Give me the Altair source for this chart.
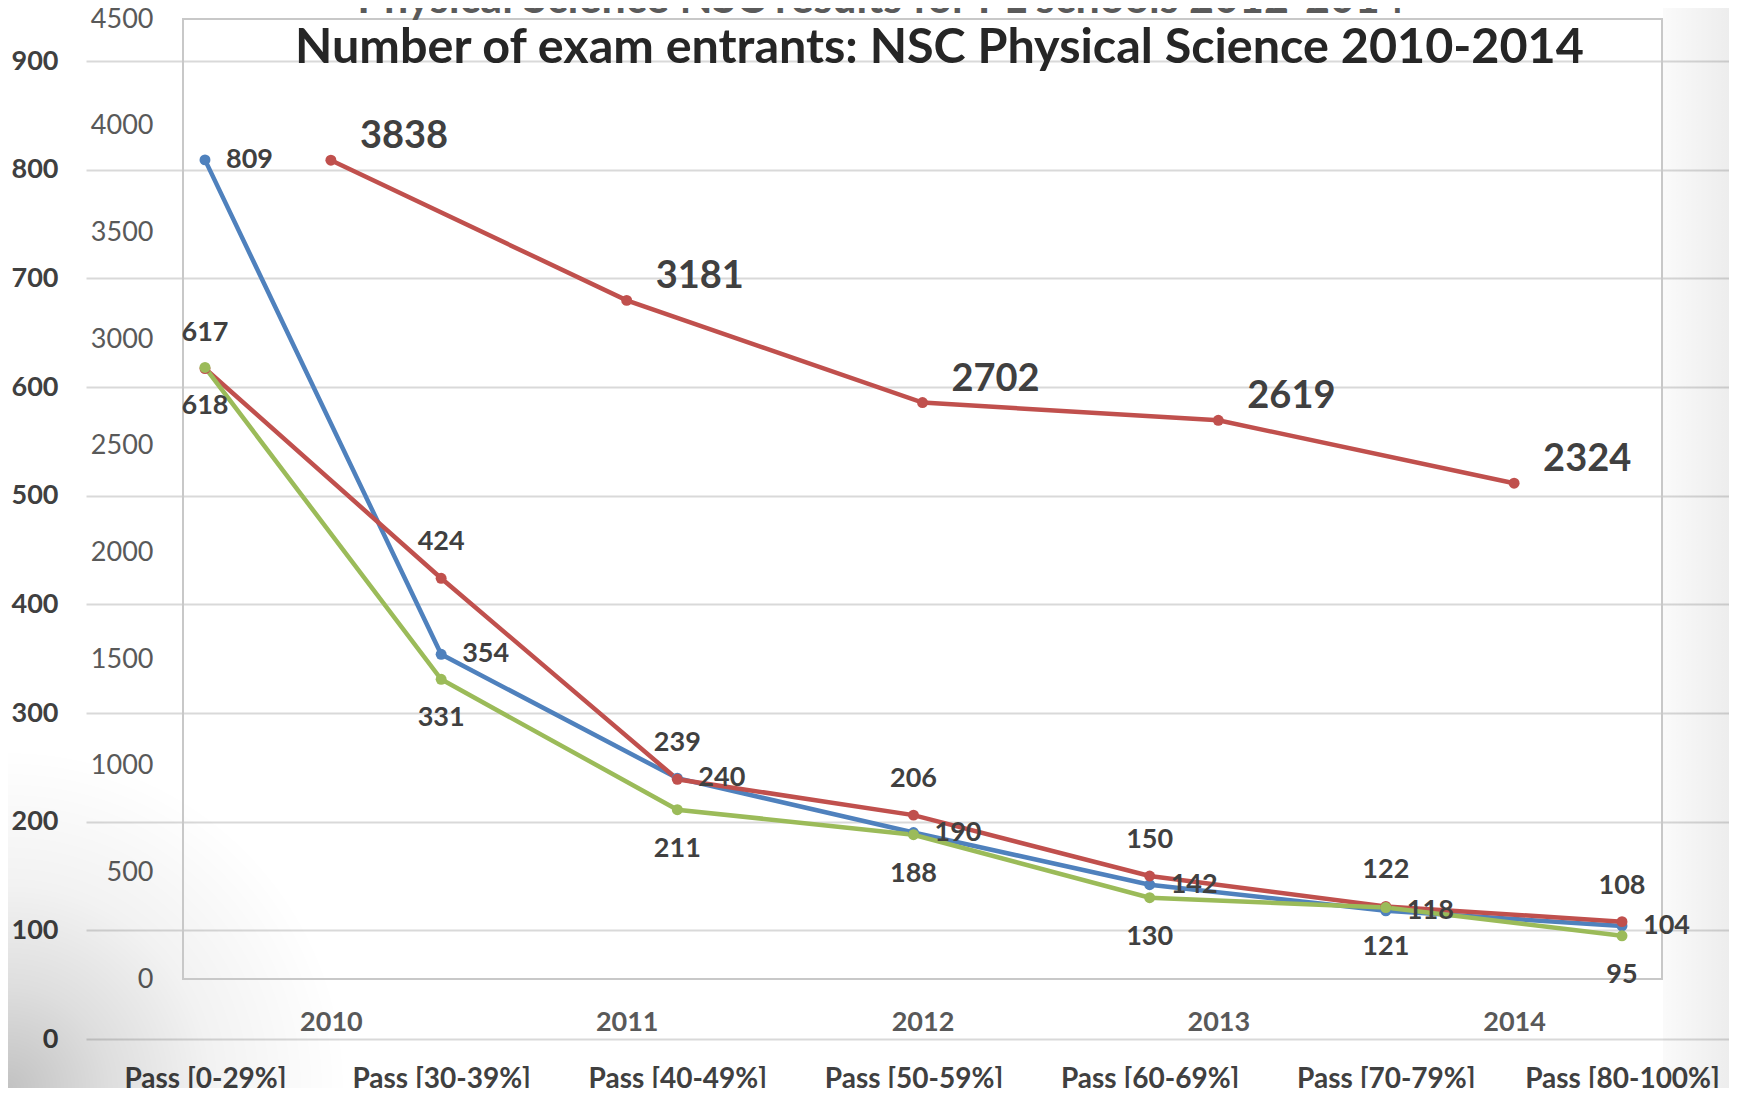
import altair as alt
import pandas as pd

# ---------------- data ----------------
categories = ["Pass [0-29%]", "Pass [30-39%]", "Pass [40-49%]", "Pass [50-59%]",
              "Pass [60-69%]", "Pass [70-79%]", "Pass [80-100%]"]
series_names = ["2012", "2013", "2014"]
blue_values = [809, 354, 240, 190, 142, 118, 104]
red_values = [617, 424, 239, 206, 150, 122, 108]
green_values = [618, 331, 211, 188, 130, 121, 95]
pass_ticks = [0, 100, 200, 300, 400, 500, 600, 700, 800, 900]

years = [2010, 2011, 2012, 2013, 2014]
entrants = [3838, 3181, 2702, 2619, 2324]
entrant_ticks = [0, 500, 1000, 1500, 2000, 2500, 3000, 3500, 4000, 4500]

main_title = "Number of exam entrants: NSC Physical Science 2010-2014"
back_title = "Physical Science NSC results for PL schools 2012-2014"

# ---------------- styling ----------------
BLUE, RED, GREEN = "#4F81BD", "#C0504D", "#9BBB59"
FONT = "Lato"
W, H = 1643, 1020

rows = []
for name, vals in zip(series_names, [blue_values, red_values, green_values]):
    for c, v in zip(categories, vals):
        rows.append({"category": c, "series": name, "value": v})
pass_df = pd.DataFrame(rows)
entr_df = pd.DataFrame({"year": years, "entrants": entrants})
box_df = pd.DataFrame({"x0": [min(years) - 0.5], "x1": [max(years) + 0.5],
                       "y0": [entrant_ticks[0]], "y1": [entrant_ticks[-1]]})
one = pd.DataFrame({"t": [back_title]})

# ---------------- background vignette (translucent shading) ----------------
bg_left = alt.Chart(one).mark_rect(
    fill=alt.RadialGradient(gradient="radial", x1=0, y1=1, r1=0, x2=0, y2=1, r2=1,
                            stops=[alt.GradientStop(offset=0, color="rgba(0,0,0,0.24)"),
                                   alt.GradientStop(offset=0.3, color="rgba(0,0,0,0.13)"),
                                   alt.GradientStop(offset=0.6, color="rgba(0,0,0,0.05)"),
                                   alt.GradientStop(offset=1, color="rgba(0,0,0,0)")])
).encode(x=alt.value(-78), x2=alt.value(262), y=alt.value(729), y2=alt.value(1069))
bg_right = alt.Chart(one).mark_rect(
    fill=alt.LinearGradient(gradient="linear", x1=0, y1=0, x2=1, y2=0,
                            stops=[alt.GradientStop(offset=0, color="rgba(0,0,0,0.02)"),
                                   alt.GradientStop(offset=1, color="rgba(0,0,0,0.07)")])
).encode(x=alt.value(1577), x2=alt.value(W), y=alt.value(-11), y2=alt.value(1069))

# ---------------- chart B: exam entrants ----------------
scaleXB = alt.Scale(domain=[2009.5, 2014.5], range=[97, 1576], nice=False, zero=False)
axisXB = alt.Axis(orient="bottom", offset=-60, values=years, format="d", title=None,
                  domain=False, ticks=False, tickSize=0, grid=False, labelPadding=30,
                  labelFontSize=27, labelFontWeight="bold", labelColor="#595959",
                  labelFont=FONT)
scaleYB = alt.Scale(domain=[0, 4500], range=[960, 0], nice=False)
axisYB = alt.Axis(orient="left", offset=-97, values=entrant_ticks, format="d", title=None,
                  domain=False, ticks=False, tickSize=0, grid=False, labelPadding=30,
                  labelFontSize=27, labelColor="#595959", labelFont=FONT)
xB = alt.X("year:Q", scale=scaleXB, axis=axisXB)
yB = alt.Y("entrants:Q", scale=scaleYB, axis=axisYB)

boxB = alt.Chart(box_df).mark_rect(fillOpacity=0, stroke="#c8c8c8", strokeWidth=2).encode(
    x=alt.X("x0:Q", scale=scaleXB, axis=axisXB), x2="x1:Q",
    y=alt.Y("y0:Q", scale=scaleYB, axis=axisYB), y2="y1:Q")
lineB = alt.Chart(entr_df).mark_line(
    color=RED, strokeWidth=4.5,
    point=alt.OverlayMarkDef(color=RED, size=120, filled=True, opacity=1)
).encode(x=xB, y=yB)
textB = alt.Chart(entr_df).mark_text(
    align="left", baseline="middle", dx=29, dy=-23, font=FONT, fontSize=38,
    fontWeight="bold", color="#404040"
).encode(x=xB, y=yB, text=alt.Text("entrants:Q", format="d"))
chartB = alt.layer(boxB, lineB, textB)

# ---------------- chart A: pass distribution ----------------
xA = alt.X("category:N", sort=categories,
           scale=alt.Scale(type="point", domain=categories, padding=0.47845, align=0.5265),
           axis=alt.Axis(orient="bottom", title=None, domain=False, ticks=False, tickSize=0,
                         grid=False, labelPadding=26, labelAngle=0, labelFontSize=28,
                         labelLimit=0, labelFontWeight="bold", labelColor="#404040",
                         labelFont=FONT))
yA = alt.Y("value:Q",
           scale=alt.Scale(domain=[0, 900], range=[1020, 42], nice=False),
           axis=alt.Axis(orient="left", values=pass_ticks, title=None, domain=False,
                         ticks=False, tickSize=0, grid=True, gridColor="#d9d9d9", gridWidth=2,
                         labelPadding=28, labelFontSize=27, labelFontWeight="bold",
                         labelColor="#404040", labelFont=FONT))
colA = alt.Color("series:N", scale=alt.Scale(domain=series_names, range=[BLUE, RED, GREEN]),
                 legend=None)

lineA = alt.Chart(pass_df).mark_line(
    strokeWidth=4.5, point=alt.OverlayMarkDef(size=120, filled=True, opacity=1)
).encode(x=xA, y=yA, color=colA, order=alt.Order("series:N"))

lab = dict(font=FONT, fontSize=27, fontWeight="bold", color="#404040", baseline="middle")
textBlue = alt.Chart(pass_df).transform_filter(alt.datum.series == series_names[0]).mark_text(
    align="left", dx=21, **lab).encode(x=xA, y=yA, text="value:Q")
textRed = alt.Chart(pass_df).transform_filter(alt.datum.series == series_names[1]).mark_text(
    align="center", dy=-36, **lab).encode(x=xA, y=yA, text="value:Q")
textGreen = alt.Chart(pass_df).transform_filter(alt.datum.series == series_names[2]).mark_text(
    align="center", dy=39, **lab).encode(x=xA, y=yA, text="value:Q")
chartA = alt.layer(lineA, textBlue, textRed, textGreen)

# clipped title of the chart behind
backTitle = alt.Chart(one).mark_text(
    font=FONT, fontSize=43, fontWeight="bold", color="#5a5a5a", align="center",
    baseline="alphabetic").encode(x=alt.value(795), y=alt.value(-6), text="t:N")

chart = alt.layer(bg_left, bg_right, chartB, chartA, backTitle).resolve_scale(
    x="independent", y="independent"
).properties(
    width=W, height=H,
    padding={"left": 78, "top": 11, "right": 0, "bottom": 49},
    autosize=alt.AutoSizeParams(type="none"),
    background="white",
    title=alt.TitleParams(main_title, font=FONT, fontSize=48.5, fontWeight="bold",
                          color="#262626", anchor="middle", baseline="middle",
                          offset=0, dx=32, dy=117),
).configure_view(stroke="transparent")

chart.save("out.html", embed_options={"renderer": "svg", "actions": False})
